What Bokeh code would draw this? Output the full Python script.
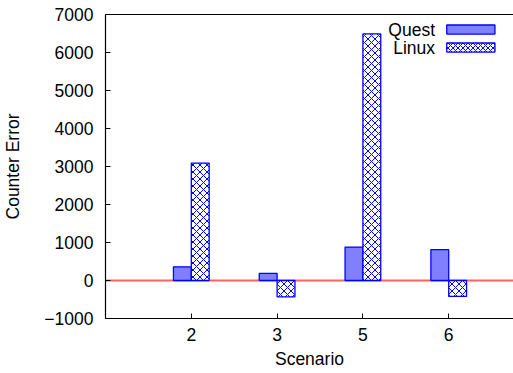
from bokeh.plotting import figure
from bokeh.models import Range1d, FixedTicker, LinearAxis, Span, Label, ColumnDataSource
from bokeh.embed import file_html
from bokeh.resources import INLINE
import numpy as np

scenarios = ["2", "3", "5", "6"]
quest = [360, 185, 880, 810]
linux = [3090, -430, 6490, -420]
y_ticks = [-1000, 0, 1000, 2000, 3000, 4000, 5000, 6000, 7000]

FONT = "Liberation Sans"
FS = "17.5px"
BLUE = "#0000ff"
bar_w = 0.208

pos = np.arange(1, len(scenarios) + 1)
src = ColumnDataSource(dict(
    xq=pos - bar_w / 2, xl=pos + bar_w / 2, quest=quest, linux=linux))

p = figure(width=513, height=373, output_backend="svg", toolbar_location=None,
           x_range=Range1d(0, 4.755), y_range=Range1d(-1000, 7000),
           min_border_left=102, min_border_right=0, min_border_top=14, min_border_bottom=55)
p.outline_line_color = None
p.xgrid.visible = False
p.ygrid.visible = False
p.background_fill_color = "white"

zero = Span(location=0, dimension="width", line_color="#ff6464", line_width=2, level="underlay")
p.add_layout(zero)

p.vbar(x="xq", top="quest", bottom=0, width=bar_w, source=src,
       fill_color="#8080ff", line_color=BLUE, line_width=1.3)
p.vbar(x="xl", top="linux", bottom=0, width=bar_w, source=src,
       fill_color="white", line_color=BLUE, line_width=1.3,
       hatch_pattern="x", hatch_color=BLUE, hatch_scale=7, hatch_weight=1)

# axes
xa = p.xaxis[0]
xa.ticker = FixedTicker(ticks=list(pos))
xa.major_label_overrides = {int(k): s for k, s in zip(pos, scenarios)}
xa.axis_label = "Scenario"
ya = p.yaxis[0]
ya.ticker = FixedTicker(ticks=y_ticks)
ya.axis_label = "Counter Error"
for ax in (xa, ya):
    ax.major_tick_in = 5
    ax.major_tick_out = 0
    ax.minor_tick_in = 0
    ax.minor_tick_out = 0
    ax.axis_line_color = "black"
    ax.axis_line_width = 1.2
    ax.major_tick_line_color = "black"
    ax.major_label_text_font = FONT
    ax.major_label_text_font_size = FS
    ax.major_label_text_color = "black"
    ax.axis_label_text_font = FONT
    ax.axis_label_text_font_size = FS
    ax.axis_label_text_font_style = "normal"
    ax.axis_label_text_color = "black"
xa.major_label_standoff = 9
xa.axis_label_standoff = 5
ya.major_label_standoff = 12
ya.axis_label_standoff = 18

top = LinearAxis(ticker=FixedTicker(ticks=[]), major_tick_out=0, major_tick_in=0,
                 minor_tick_out=0, minor_tick_in=0, major_label_standoff=0,
                 major_label_text_font_size="0px", axis_line_width=1.2)
p.add_layout(top, "above")

# legend (gnuplot style: text then sample)
leg_text_x = 3.84
leg_box = (3.977, 4.539)
leg_rows = [("Quest", 6604, dict(fill_color="#8080ff")),
            ("Linux", 6130, dict(fill_color="white", hatch_pattern="x", hatch_color=BLUE,
                                 hatch_scale=5, hatch_weight=1))]
for name, yc, style in leg_rows:
    p.add_layout(Label(x=leg_text_x, y=yc, text=name, text_align="right", text_baseline="middle",
                       text_font=FONT, text_font_size=FS, text_color="black"))
    p.quad(left=leg_box[0], right=leg_box[1], bottom=yc - 120, top=yc + 120,
           line_color=BLUE, line_width=1.3, **style)

open("out.html", "w").write(file_html(p, INLINE))
